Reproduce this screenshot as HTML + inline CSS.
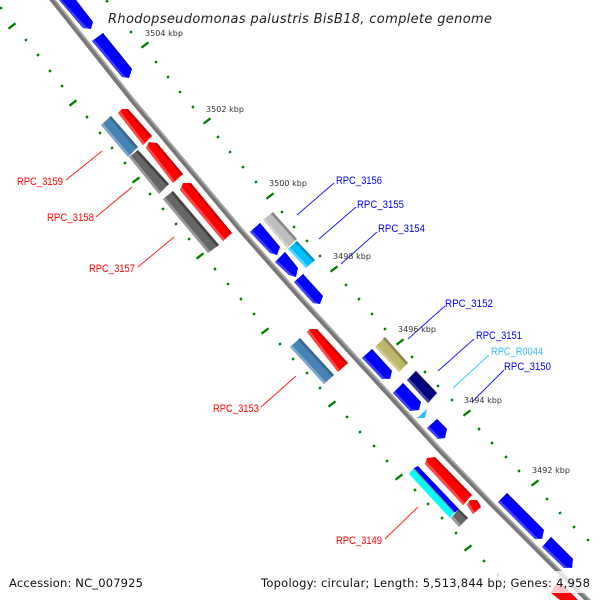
<!DOCTYPE html>
<html><head><meta charset="utf-8"><style>html,body{margin:0;padding:0;background:#fff}svg{display:block}text{white-space:pre}</style></head><body>
<svg xmlns="http://www.w3.org/2000/svg" width="600" height="600" viewBox="0 0 600 600">
<rect width="600" height="600" fill="#fff"/>
<!-- tick tracks -->
<g stroke="#008000" stroke-width="2.300" fill="none">
<path d="M106,2l2,-1.600M130,32.800l2,-1.600M155,62.800l2,-1.600M167,77.800l2,-1.600M179,92.800l2,-1.600M192,107.800l2,-1.600M217,137.800l2,-1.600M229,152.800l2,-1.600M242,167.800l2,-1.600M255,182.800l2,-1.600M281,212.800l2,-1.600M293,227.800l2,-1.600M306,241.800l2,-1.600M319,256.800l2,-1.600M345,285.800l2,-1.600M358,299.800l2,-1.600M371,314.800l2,-1.600M384,329.800l2,-1.600M411,357.800l2,-1.600M424,372.800l2,-1.600M437,386.800l2,-1.600M451,400.800l2,-1.600M478,429.800l2,-1.600M491,443.800l2,-1.600M505,457.800l2,-1.600M518,471.800l2,-1.600M546,499.800l2,-1.600M559,513.800l2,-1.600M573,527.800l2,-1.600M587,540.800l2,-1.600"/>
<path d="M0,8.800l2,-1.600M25,40.800l2,-1.600M37,55.800l2,-1.600M49,71.800l2,-1.600M61,86.800l2,-1.600M86,117.800l2,-1.600M99,133.800l2,-1.600M111,148.800l2,-1.600M124,163.800l2,-1.600M149,194.800l2,-1.600M162,209.800l2,-1.600M175,224.800l2,-1.600M188,239.800l2,-1.600M214,269.800l2,-1.600M227,284.800l2,-1.600M240,299.800l2,-1.600M253,314.800l2,-1.600M279,344.800l2,-1.600M292,359.800l2,-1.600M306,373.800l2,-1.600M319,388.800l2,-1.600M346,417.800l2,-1.600M359,432.800l2,-1.600M373,446.800l2,-1.600M386,461.800l2,-1.600M414,490.800l2,-1.600M427,504.800l2,-1.600M441,518.800l2,-1.600M455,533.800l2,-1.600M483,561.800l2,-1.600M497,575.800l2,-1.600M511,589.800l2,-1.600"/>
<path d="M141.500,47.700l7,-5.400M203.500,123.700l7,-5.400M266.500,198.700l7,-5.400M330.500,271.700l7,-5.400M396.500,344.700l7,-5.400M463.500,415.700l7,-5.400M531.500,485.700l7,-5.400"/>
<path d="M8.500,28.700l7,-5.400M69.500,105.700l7,-5.400M132.500,182.700l7,-5.400M196.500,258.700l7,-5.400M261.500,333.700l7,-5.400M328.500,406.700l7,-5.400M395.500,479.700l7,-5.400M464.500,550.700l7,-5.400"/>
</g>
<!-- backbone -->
<polyline points="47.500,-6 52.500,0 132,100 240.500,230 300.500,298 439.500,450 490.500,503 587.500,600 593.500,606" fill="none" stroke="#777" stroke-width="5"/>
<polyline points="49,-6.500 54,-1 133.500,99 242,229 302,297 441,449 492,502 589,599 595,605" fill="none" stroke="#a6a6a6" stroke-width="1.800"/>
<!-- blue genes -->
<g fill="#0000ff">
<polygon points="59,0 76,0 93,22 91,29 83,28"/>
<polygon points="92,41 103,33 132,69 129,78 122,77"/>
<polygon points="250,232 260,223 280,247 277,255 270,253"/>
<polygon points="275,262 285,252 298,268 296,277 289,275"/>
<polygon points="294,282 303,274 323,296 320,304 313,303"/>
<polygon points="362,358 372,349 392,371 390,379 382,379"/>
<polygon points="393,393 403,383 421,402 419,410 410,411"/>
<polygon points="427,428 437,419 447,429 445,438 438,439"/>
<polygon points="498,502 507,493 544,530 542,539 535,539"/>
<polygon points="542,547 551,537 573,559 572,568 564,568"/>
</g>
<g fill="#4040ff">
<polygon points="59,0 61.500,0 86,26.500 91,29 83,28"/>
<polygon points="92,41 94,39.300 124,75.500 129,78 122,77"/>
<polygon points="250,232 252,230.300 272,251.500 277,255 270,253"/>
<polygon points="275,262 277,260.300 291,273.500 296,277 289,275"/>
<polygon points="294,282 296,280.300 315,301.500 320,304 313,303"/>
<polygon points="362,358 364,356.300 384,377.500 390,379 382,379"/>
<polygon points="393,393 395,391.300 412,409.500 419,410 410,411"/>
<polygon points="427,428 429,426.300 440,437.500 445,438 438,439"/>
<polygon points="498,502 500,500.300 537,537.500 542,539 535,539"/>
<polygon points="542,547 544,545.300 566,566.500 572,568 564,568"/>
</g>
<g fill="#0000c8">
<polygon points="76,0 74,0 91.500,23.500 93,22"/>
<polygon points="103,33 101.500,34.300 130.500,70.300 132,69"/>
<polygon points="260,223 258.500,224.300 278.500,248.300 280,247"/>
<polygon points="285,252 283.500,253.300 296.500,269.300 298,268"/>
<polygon points="303,274 301.500,275.300 321.500,297.300 323,296"/>
<polygon points="372,349 370.500,350.300 390.500,372.300 392,371"/>
<polygon points="403,383 401.500,384.300 419.500,403.300 421,402"/>
<polygon points="437,419 435.500,420.300 445.500,430.300 447,429"/>
<polygon points="507,493 505.500,494.300 542.500,531.300 544,530"/>
<polygon points="551,537 549.500,538.300 571.500,560.300 573,559"/>
</g>
<!-- red genes -->
<g fill="#ff0000">
<polygon points="118,113 122,109 128,109 152,136 143,145"/>
<polygon points="146,148 149,142 157,143 183,174 173,183"/>
<polygon points="180,190 183,183 191,183 232,233 223,241"/>
<polygon points="307,332 310,329 317,329 348,363 338,372"/>
<polygon points="425,464 427,458 435,457 472,495 463,505"/>
<polygon points="467,505 470,500 477,500 481,507 473,514"/>
<polygon points="551,593 555,585 563,585 578,600 560,600"/>
</g>
<g fill="#ff4848">
<polygon points="118,113 120.500,110.500 120.500,111.500 145,143.300 143,145"/>
<polygon points="146,148 148,144 148.500,146.500 175,181.300 173,183"/>
<polygon points="180,190 182,185.500 182.500,188 225,239.300 223,241"/>
<polygon points="307,332 309.500,329.500 309.500,330.500 340,370.300 338,372"/>
<polygon points="425,464 426.500,460 427.500,462 465,503.300 463,505"/>
<polygon points="467,505 469,502 469.500,504 475,512.300 473,514"/>
</g>
<g fill="#c80000">
<polygon points="128,109 126,110.500 150.200,137.500 152,136"/>
<polygon points="157,143 155,144.500 181.200,175.500 183,174"/>
<polygon points="191,183 189,184.500 230.200,234.500 232,233"/>
<polygon points="317,329 315,330.500 346.200,364.500 348,363"/>
<polygon points="435,457 433,458.500 470.200,496.500 472,495"/>
<polygon points="477,500 475.500,501.300 479.500,508.300 481,507"/>
</g>
<!-- steel blue -->
<polygon points="101,125 111,116 138,147 128,157" fill="#4682b4"/>
<polygon points="101,125 103,123.300 130,155.300 128,157" fill="#7fa8cc"/>
<polygon points="111,116 109,117.700 136,148.700 138,147" fill="#38688f"/>
<polygon points="290,347 300,338 334,375 324,384" fill="#4682b4"/>
<polygon points="290,347 292,345.300 326,382.300 324,384" fill="#7fa8cc"/>
<polygon points="300,338 298,339.700 332,376.700 334,375" fill="#38688f"/>
<!-- grey -->
<polygon points="129,157 138,150 169,184 159,194" fill="#666"/>
<polygon points="129,157 131,155.300 161,192.300 159,194" fill="#999"/>
<polygon points="138,150 136,151.700 167,185.700 169,184" fill="#444"/>
<polygon points="163,199 173,191 219,245 208,253" fill="#666"/>
<polygon points="163,199 165,197.300 210,251.300 208,253" fill="#999"/>
<polygon points="173,191 171,192.700 217,246.700 219,245" fill="#444"/>
<!-- light grey -->
<polygon points="263,220 273,212 297,239 287,248" fill="#bebebe"/>
<polygon points="263,220 265,218.300 289,246.300 287,248" fill="#d2d2d2"/>
<polygon points="273,212 271,213.700 295,240.700 297,239" fill="#8a8a8a"/>
<!-- deep sky blue -->
<polygon points="288,249 297,241 315,260 306,268" fill="#00bfff"/>
<polygon points="288,249 290,247.300 308,266.300 306,268" fill="#55d5ff"/>
<polygon points="297,241 295,242.700 313,261.700 315,260" fill="#0090c0"/>
<!-- khaki -->
<polygon points="375,347 385,337 408,363 399,372" fill="#bdb76b"/>
<polygon points="375,347 377,345.300 401,370.300 399,372" fill="#d0cc92"/>
<polygon points="385,337 383,338.700 406,364.700 408,363" fill="#8e8950"/>
<!-- navy -->
<polygon points="407,380 416,371 437,393 428,403" fill="#000080"/>
<polygon points="407,380 409,378.300 430,401.300 428,403" fill="#4444a0"/>
<polygon points="416,371 414,372.700 435,394.700 437,393" fill="#000060"/>
<!-- RNA triangle -->
<polygon points="417,418 427,409 425,418" fill="#33bbff"/>
<!-- RPC_3149 group -->
<polygon points="409,474 413,469 454,513 450,518" fill="#00ffff"/>
<polygon points="413,469 414.500,468 455.500,511.500 454,513" fill="#669999"/>
<polygon points="414,468 418,466 459,509 455,512.500" fill="#0000ff"/>
<polygon points="451,518 459,509 468,518 459,527" fill="#666"/>
<polygon points="451,518 453,516 461,525 459,527" fill="#999"/>
<polygon points="459,509 457.500,510.500 466.500,519.500 468,518" fill="#444"/>
<!-- fade boxes -->
<rect x="100" y="8" width="396" height="20" fill="#fff" fill-opacity=".85"/>
<rect x="256" y="571" width="340" height="22" fill="#fff" fill-opacity=".78"/>
<!-- leader lines -->
<g stroke="#ff2020" stroke-width="1" fill="none">
<line x1="66" y1="180" x2="102" y2="151"/><line x1="96" y1="217" x2="132" y2="187"/><line x1="138" y1="267" x2="174" y2="237"/><line x1="261" y1="407" x2="296" y2="376"/><line x1="385" y1="539" x2="418" y2="507"/>
</g>
<g stroke="#2020ff" stroke-width="1" fill="none">
<line x1="297" y1="215" x2="334" y2="183"/><line x1="319" y1="239" x2="356" y2="207"/><line x1="341" y1="264" x2="377" y2="232"/><line x1="408" y1="339" x2="445" y2="306"/><line x1="438" y1="371" x2="474" y2="339"/><line x1="472" y1="402" x2="504" y2="370"/>
</g>
<line x1="453" y1="388" x2="489" y2="355" stroke="#33ccff" stroke-width="1"/>
<!-- gene labels -->
<g font-family="'Liberation Sans',sans-serif" font-size="11" fill="#ff0000">
<text x="17" y="185" textLength="46" lengthAdjust="spacingAndGlyphs">RPC_3159</text>
<text x="47" y="221" textLength="47" lengthAdjust="spacingAndGlyphs">RPC_3158</text>
<text x="89" y="272" textLength="46" lengthAdjust="spacingAndGlyphs">RPC_3157</text>
<text x="213" y="412" textLength="46" lengthAdjust="spacingAndGlyphs">RPC_3153</text>
<text x="336" y="544" textLength="46" lengthAdjust="spacingAndGlyphs">RPC_3149</text>
</g>
<g font-family="'Liberation Sans',sans-serif" font-size="11" fill="#0000ff">
<text x="336" y="184" textLength="46" lengthAdjust="spacingAndGlyphs">RPC_3156</text>
<text x="357" y="208" textLength="47" lengthAdjust="spacingAndGlyphs">RPC_3155</text>
<text x="378" y="232" textLength="47" lengthAdjust="spacingAndGlyphs">RPC_3154</text>
<text x="445" y="307" textLength="48" lengthAdjust="spacingAndGlyphs">RPC_3152</text>
<text x="476" y="339" textLength="46" lengthAdjust="spacingAndGlyphs">RPC_3151</text>
<text x="504" y="370" textLength="47" lengthAdjust="spacingAndGlyphs">RPC_3150</text>
</g>
<text x="491" y="355" font-family="'Liberation Sans',sans-serif" font-size="11" fill="#33bbff" textLength="52" lengthAdjust="spacingAndGlyphs">RPC_R0044</text>
<!-- kbp labels -->
<g font-family="'DejaVu Sans',sans-serif" font-size="8" fill="#333">
<text x="145" y="36" textLength="38">3504 kbp</text>
<text x="206" y="112" textLength="38">3502 kbp</text>
<text x="269" y="186" textLength="38">3500 kbp</text>
<text x="333" y="259" textLength="38">3498 kbp</text>
<text x="398" y="332" textLength="38">3496 kbp</text>
<text x="464" y="403" textLength="38">3494 kbp</text>
<text x="532" y="473" textLength="38">3492 kbp</text>
</g>
<!-- title & footer -->
<text x="108" y="23" font-family="'DejaVu Sans',sans-serif" font-style="italic" font-size="13" fill="#222" textLength="384">Rhodopseudomonas palustris BisB18, complete genome</text>
<text x="9" y="587" font-family="'DejaVu Sans',sans-serif" font-size="11.500" fill="#111" textLength="134">Accession: NC_007925</text>
<text x="261" y="587" font-family="'DejaVu Sans',sans-serif" font-size="11.500" fill="#111" textLength="329">Topology: circular; Length: 5,513,844 bp; Genes: 4,958</text>
</svg>
</body></html>
